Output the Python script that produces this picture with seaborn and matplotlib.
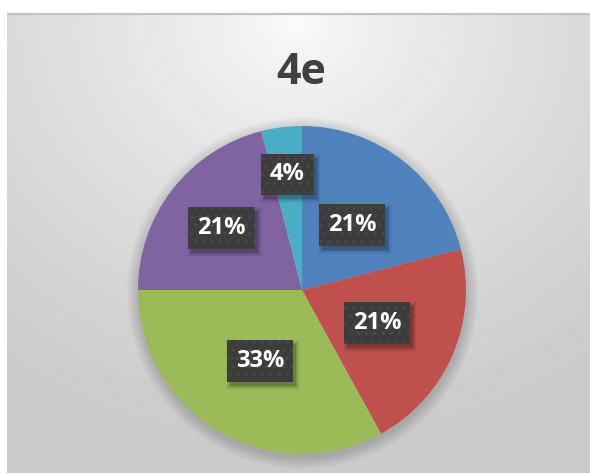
import numpy as np
import matplotlib
matplotlib.use("Agg")
import matplotlib.pyplot as plt
from matplotlib.patches import Circle, Rectangle
import seaborn as sns

# Chart content
title = "4e"
values = [21, 21, 33, 21, 4]
slice_colors = ["#4F81BD", "#C0504D", "#9BBB59", "#8064A2", "#4BACC6"]
# radial position of each value label, as a fraction of the pie radius
label_radius = [0.50, 0.50, 0.50, 0.62, 0.71]

sns.set_theme(style="white")
palette = sns.color_palette(slice_colors)
font_family = ["Open Sans", "DejaVu Sans"]

W, H = 590, 473
fig = plt.figure(figsize=(W / 100, H / 100), dpi=100)
fig.patch.set_facecolor("white")
ax = fig.add_axes([0, 0, 1, 1])

# chart-area background: soft radial gradient, light at the top centre
x0, x1, y0, y1 = 7, W, 0, H - 14
gx = np.linspace(x0, x1, 400)
gy = np.linspace(y1, y0, 400)
GX, GY = np.meshgrid(gx, gy)
d = np.sqrt(((GX - 295) / 1.15) ** 2 + (GY - (H - 25)) ** 2)
shade = 0.985 - 0.19 * np.clip(d / 420, 0, 1) ** 0.75
ax.imshow(shade, cmap="gray", vmin=0, vmax=1, extent=(x0, x1, y0, y1),
          aspect="auto", interpolation="bilinear", zorder=0)
ax.plot([x0, x1], [y1, y1], color="#c3c3c3", lw=1.6, zorder=1,
        solid_capstyle="butt")

cx, cy, r = 302, H - 290, 164

# soft shadow under the pie
for k in range(12):
    ax.add_patch(Circle((cx + 0.5, cy - 3), r + 12 - k, facecolor="black",
                        edgecolor="none", alpha=0.011, zorder=1))

wedges, _ = ax.pie(values, colors=palette, startangle=90, counterclock=False,
                   center=(cx, cy), radius=r,
                   wedgeprops=dict(linewidth=0, zorder=2))

ax.set_xlim(0, W)
ax.set_ylim(0, H)
ax.set_aspect("auto")
ax.axis("off")

total = sum(values)
labels = []
for w, v, frac in zip(wedges, values, label_radius):
    ang = np.deg2rad((w.theta1 + w.theta2) / 2)
    lx = cx + r * frac * np.cos(ang)
    ly = cy + r * frac * np.sin(ang)
    t = ax.text(lx, ly, f"{v / total * 100:.0f}%", color="white", zorder=6,
                fontsize=17, fontweight="bold", family=font_family,
                ha="center", va="center",
                bbox=dict(boxstyle="square,pad=0.38", facecolor="#3d3d3d",
                          edgecolor="#4a4a4a", linewidth=0, hatch=".."))
    labels.append(t)

# blurred drop shadows behind the label boxes
fig.canvas.draw()
inv = ax.transData.inverted()
for t in labels:
    bb = t.get_bbox_patch().get_window_extent()
    (bx0, by0), (bx1, by1) = inv.transform([[bb.x0, bb.y0], [bb.x1, bb.y1]])
    for k, a in enumerate([0.12, 0.09, 0.06, 0.04, 0.03]):
        g = k * 1.0
        ax.add_patch(Rectangle((bx0 + 3 - g, by0 - 4 - g),
                               (bx1 - bx0) + 2 * g, (by1 - by0) + 2 * g,
                               facecolor="black", edgecolor="none",
                               alpha=a, zorder=4))

ax.text(301, H - 73, title, fontsize=31, fontweight="bold", color="#404040",
        family=font_family, ha="center", va="center", zorder=6)

fig.savefig("out.png", dpi=100, facecolor=fig.get_facecolor())
